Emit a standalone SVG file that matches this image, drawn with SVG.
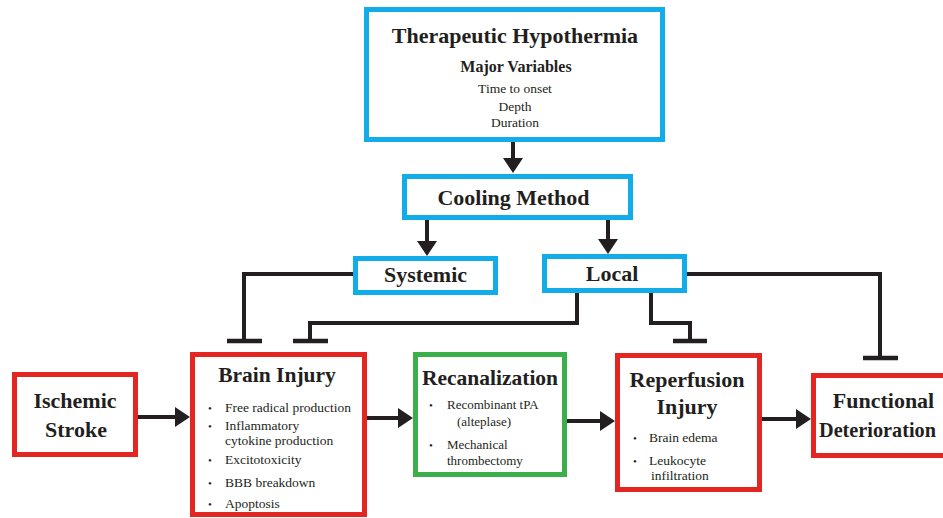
<svg xmlns="http://www.w3.org/2000/svg" width="943" height="518" viewBox="0 0 943 518">
<style>
.bg{fill:#ffffff}
.blue{fill:#ffffff;stroke:#12ADE9;stroke-width:5}
.red{fill:#ffffff;stroke:#E42622;stroke-width:5}
.green{fill:#ffffff;stroke:#3BAF4A;stroke-width:5}
.t{font-family:"Liberation Serif","DejaVu Serif",serif;fill:#231F20}
.h{font-weight:bold;font-size:22px;text-anchor:middle}
.sub{font-weight:bold;font-size:16px;text-anchor:middle}
.b{font-size:13.5px}
.c{text-anchor:middle}
.dot{font-size:11px}
.ln{fill:none;stroke:#231F20;stroke-width:4}
.bar{fill:none;stroke:#231F20;stroke-width:4.5}
</style>
<defs>
<marker id="ah" markerUnits="userSpaceOnUse" markerWidth="16" markerHeight="20" refX="5" refY="10" orient="auto">
<path d="M0,0 L15,10 L0,20 Z" fill="#231F20"/>
</marker>
</defs>
<rect class="bg" x="0" y="0" width="943" height="518"/>

<g id="connectors">
<path class="ln" d="M513,142 V163" marker-end="url(#ah)"/>
<path class="ln" d="M427,220 V246" marker-end="url(#ah)"/>
<path class="ln" d="M608,220 V244" marker-end="url(#ah)"/>
<path class="ln" d="M138,417 H180" marker-end="url(#ah)"/>
<path class="ln" d="M367,418 H403" marker-end="url(#ah)"/>
<path class="ln" d="M567,421 H605" marker-end="url(#ah)"/>
<path class="ln" d="M762,419 H801" marker-end="url(#ah)"/>
<path class="ln" d="M355,274 H244 V341"/>
<path class="bar" d="M227,341 H262"/>
<path class="ln" d="M577,293 V323 H310 V341"/>
<path class="bar" d="M293,341 H328"/>
<path class="ln" d="M651,293 V323 H690 V341"/>
<path class="bar" d="M673,341 H707"/>
<path class="ln" d="M687,274 H880 V358"/>
<path class="bar" d="M863,358 H898"/>
</g>

<g id="hypothermia">
<rect class="blue" x="366.5" y="9.5" width="296" height="130"/>
<text class="t h" x="515" y="43">Therapeutic Hypothermia</text>
<text class="t sub" x="516" y="72">Major Variables</text>
<text class="t b c" x="515" y="93">Time to onset</text>
<text class="t b c" x="515" y="111">Depth</text>
<text class="t b c" x="515" y="127">Duration</text>
</g>

<g id="cooling">
<rect class="blue" x="404.5" y="176.5" width="226" height="41"/>
<text class="t h" x="513.5" y="205">Cooling Method</text>
</g>

<g id="systemic">
<rect class="blue" x="355.5" y="258.5" width="140" height="34"/>
<text class="t h" x="425.5" y="282" font-size="21">Systemic</text>
</g>

<g id="local">
<rect class="blue" x="544.5" y="256.5" width="140" height="34"/>
<text class="t h" x="612" y="281" font-size="21">Local</text>
</g>

<g id="ischemic">
<rect class="red" x="14.5" y="374.5" width="121" height="80"/>
<text class="t h" x="75" y="408">Ischemic</text>
<text class="t h" x="76" y="437">Stroke</text>
</g>

<g id="brain">
<rect class="red" x="192.5" y="354.5" width="172" height="160"/>
<text class="t h" x="277" y="382" style="font-size:21.5px">Brain Injury</text>
<text class="t dot" x="208" y="412">•</text>
<text class="t b" x="225" y="412">Free radical production</text>
<text class="t dot" x="208" y="430">•</text>
<text class="t b" x="225" y="430">Inflammatory</text>
<text class="t b" x="225" y="445">cytokine production</text>
<text class="t dot" x="208" y="464">•</text>
<text class="t b" x="225" y="464">Excitotoxicity</text>
<text class="t dot" x="208" y="487">•</text>
<text class="t b" x="225" y="487">BBB breakdown</text>
<text class="t dot" x="208" y="508">•</text>
<text class="t b" x="225" y="508">Apoptosis</text>
</g>

<g id="recanalization">
<rect class="green" x="415.5" y="354.5" width="149" height="120"/>
<text class="t h" x="490" y="385" style="font-size:21.5px">Recanalization</text>
<text class="t dot" x="429" y="409">•</text>
<text class="t b" x="447" y="409" style="font-size:13px">Recombinant tPA</text>
<text class="t b" x="457" y="426" style="font-size:13px">(alteplase)</text>
<text class="t dot" x="429" y="449">•</text>
<text class="t b" x="447" y="449" style="font-size:13px">Mechanical</text>
<text class="t b" x="447" y="465" style="font-size:13px">thrombectomy</text>
</g>

<g id="reperfusion">
<rect class="red" x="617.5" y="355.5" width="142" height="134"/>
<text class="t h" x="687" y="387">Reperfusion</text>
<text class="t h" x="687" y="414">Injury</text>
<text class="t dot" x="633" y="442">•</text>
<text class="t b" x="649" y="442">Brain edema</text>
<text class="t dot" x="633" y="465">•</text>
<text class="t b" x="649" y="465">Leukocyte</text>
<text class="t b" x="651" y="480">infiltration</text>
</g>

<g id="functional">
<rect class="red" x="813.5" y="375.5" width="150" height="80"/>
<text class="t h" x="883.5" y="408">Functional</text>
<text class="t h" x="819" y="437" style="text-anchor:start" textLength="117" lengthAdjust="spacingAndGlyphs">Deterioration</text>
</g>
</svg>
